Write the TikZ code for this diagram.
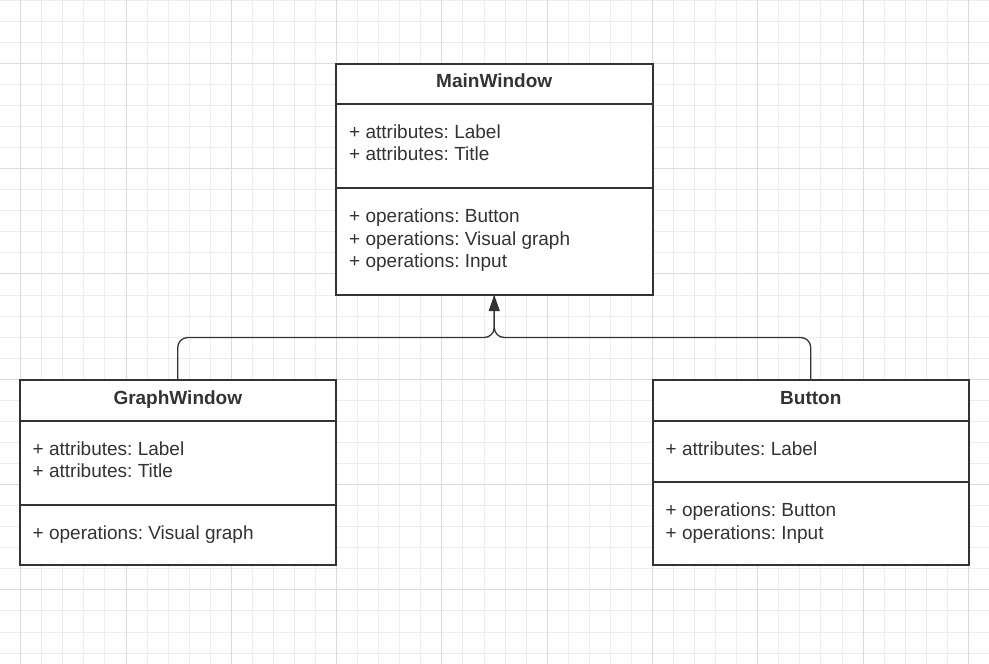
\documentclass[tikz,border=0pt]{standalone}
\usepackage{fontspec}
\setmainfont{Liberation Sans}
\usetikzlibrary{arrows.meta}
\definecolor{ink}{HTML}{333333}
\definecolor{gridminor}{HTML}{EDEDED}
\definecolor{gridmajor}{HTML}{DCDCDC}
\frenchspacing
\tikzset{
  umlbox/.style={draw=ink, line width=2pt, inner sep=0pt, outer sep=0pt, anchor=north west, fill=white},
  divider/.style={draw=ink, line width=2pt},
  ttl/.style={anchor=base, inner sep=0pt, text=ink, font=\fontsize{19}{23}\selectfont\bfseries},
  txt/.style={anchor=base west, inner sep=0pt, text=ink, font=\fontsize{19}{23}\selectfont},
  conn/.style={draw=ink, line width=1.3pt, rounded corners=10pt},
}
\begin{document}
\begin{tikzpicture}[x=1pt,y=-1pt]
\useasboundingbox (0,0) rectangle (989,664);
\fill[white] (0,0) rectangle (989,664);
\begin{scope}
\clip (0,0) rectangle (989,664);
\foreach \k in {0,...,47} {
  \draw[gridminor, line width=1pt] ({-0.36+21.06*\k},0) -- ({-0.36+21.06*\k},664);
}
\foreach \k in {0,...,32} {
  \draw[gridminor, line width=1pt] (0,{0.2+21.06*\k}) -- (989,{0.2+21.06*\k});
}
\foreach \k in {0,...,9} {
  \draw[gridmajor, line width=1pt] ({20.7+105.3*\k},0) -- ({20.7+105.3*\k},664);
}
\foreach \k in {0,...,6} {
  \draw[gridmajor, line width=1pt] (0,{-42+105.3*\k}) -- (989,{-42+105.3*\k});
}
\end{scope}

% MainWindow
\node[umlbox, minimum width=316.5pt, minimum height=231.5pt] (mw) at (336,63.5) {};
\draw[divider] (mw.west |- 0,103.5) -- (mw.east |- 0,103.5);
\draw[divider] (mw.west |- 0,187.5) -- (mw.east |- 0,187.5);
\node[ttl] (mwt) at (494.2,87.3) {MainWindow};
\node[txt] (mwa1) at (349,138.3) {+ attributes: Label};
\node[txt] (mwa2) at (349,160.7) {+ attributes: Title};
\node[txt] (mwo1) at (349,222.3) {+ operations: Button};
\node[txt] (mwo2) at (349,245) {+ operations: Visual graph};
\node[txt] (mwo3) at (349,267.7) {+ operations: Input};

% GraphWindow
\node[umlbox, minimum width=316.5pt, minimum height=184.5pt] (gw) at (19.5,380.3) {};
\draw[divider] (gw.west |- 0,420.7) -- (gw.east |- 0,420.7);
\draw[divider] (gw.west |- 0,504.5) -- (gw.east |- 0,504.5);
\node[ttl] (gwt) at (177.8,404.3) {GraphWindow};
\node[txt] (gwa1) at (32.5,455.7) {+ attributes: Label};
\node[txt] (gwa2) at (32.5,477.9) {+ attributes: Title};
\node[txt] (gwo1) at (32.5,539.3) {+ operations: Visual graph};

% Button
\node[umlbox, minimum width=316.5pt, minimum height=184.5pt] (bt) at (652.5,380.3) {};
\draw[divider] (bt.west |- 0,420.7) -- (bt.east |- 0,420.7);
\draw[divider] (bt.west |- 0,481.5) -- (bt.east |- 0,481.5);
\node[ttl] (btt) at (810.8,404.3) {Button};
\node[txt] (bta1) at (665.5,455.7) {+ attributes: Label};
\node[txt] (bto1) at (665.5,516.5) {+ operations: Button};
\node[txt] (bto2) at (665.5,539.3) {+ operations: Input};

% generalisation connectors
\coordinate (j) at (mw.south |- 0,337.5);
\path[conn] (gw.north) -- (gw.north |- j) -- (j) -- (mw.south);
\path[conn, -{Triangle[length=16pt,width=11pt]}] (bt.north) -- (bt.north |- j) -- (j) -- (mw.south);
\end{tikzpicture}
\end{document}
